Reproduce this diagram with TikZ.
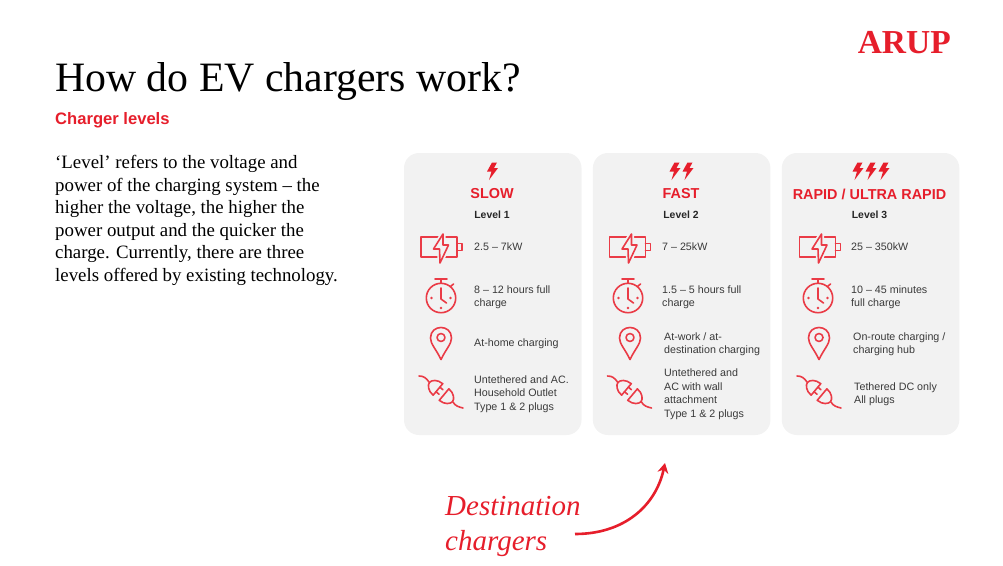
\documentclass[tikz,border=0pt]{standalone}
\usepackage{fontspec}
\setmainfont{Liberation Serif}
\setsansfont{Liberation Sans}
\usetikzlibrary{shapes.geometric, arrows.meta, positioning}
\definecolor{arupred}{HTML}{E61E2B}
\definecolor{icored}{HTML}{EA3B46}
\definecolor{cardgray}{HTML}{F2F2F2}
\definecolor{textgray}{HTML}{3A3A3A}
\tikzstyle{card} = [rectangle, fill=cardgray, rounded corners=15pt, minimum width=177.5pt, minimum height=282pt, inner sep=0pt]
\tikzstyle{heading} = [font=\sffamily\bfseries\fontsize{14.4}{17}\selectfont, text=arupred, inner sep=0pt]
\tikzstyle{level} = [font=\sffamily\bfseries\fontsize{10.4}{12}\selectfont, text=black!85, inner sep=0pt]
\tikzstyle{info} = [anchor=west, align=left, font=\sffamily\fontsize{10.7}{13.5}\selectfont, text=textgray, inner sep=0pt]
\tikzstyle{icon} = [draw=icored, line width=1.6pt, line join=round, line cap=round]
\tikzstyle{arrow} = [draw=arupred, -{Stealth[length=10pt,width=11pt]}, line width=2.6pt]
\newcommand{\smallbolt}[1]{\fill[arupred, shift={(#1)}] (-0.5,-8.5) -- (4.5,-8.5) -- (1.5,-3) -- (5.5,-3) -- (-3.5,9) -- (-1,0.5) -- (-5.5,0.5) -- cycle;}
\newcommand{\batteryicon}[1]{\begin{scope}[shift={(#1)}]
  \path[icon] (-20.5,-10) rectangle (15.5,10);
  \path[icon] (15.5,-3.5) -- (20.5,-3.5) -- (20.5,3.5) -- (15.5,3.5);
  \path[icon, draw=cardgray, line width=5pt] (1.5,-13) -- (-8,2) -- (-2,2) -- (-1.5,16) -- (7,-2) -- (1.5,-2) -- cycle;
  \path[icon] (1.5,-13) -- (-8,2) -- (-2,2) -- (-1.5,16) -- (7,-2) -- (1.5,-2) -- cycle;
\end{scope}}
\newcommand{\clockicon}[1]{\begin{scope}[shift={(#1)}]
  \path[icon] (0,0) circle (14.7);
  \path[icon] (-6,-19) -- (6,-19) (0,-19) -- (0,-14.7) (9.5,-11.5) -- (12.5,-14);
  \path[icon] (0,-10) -- (0,1) -- (5.5,5);
  \fill[icored] (-9.5,0) circle (1.3) (9.5,0) circle (1.3) (0,10) circle (1.3);
\end{scope}}
\newcommand{\pinicon}[1]{\begin{scope}[shift={(#1)}]
  \path[icon] (0,21.5) .. controls (-5,11) and (-10.5,6) .. (-10.5,0) .. controls (-10.5,-14) and (10.5,-14) .. (10.5,0) .. controls (10.5,6) and (5,11) .. (0,21.5) -- cycle;
  \path[icon] (0,-0.5) circle (4);
\end{scope}}
\newcommand{\plugicon}[1]{\begin{scope}[shift={(#1)}]
  \path[icon] (-22,-16) .. controls (-17,-16) and (-15,-14) .. (-12,-10);
  \path[icon] (12,10) .. controls (14,14) and (18,15) .. (22,16);
  \begin{scope}[rotate=-40]
    \path[icon] (-4,-7.5) .. controls (-11,-7.5) and (-15,-3) .. (-15,0) .. controls (-15,3) and (-11,7.5) .. (-4,7.5) -- cycle;
    \path[icon] (4,-7.5) .. controls (11,-7.5) and (15,-3) .. (15,0) .. controls (15,3) and (11,7.5) .. (4,7.5) -- cycle;
    \path[icon] (-4,-3) -- (0,-3) (-4,3) -- (0,3);
  \end{scope}
\end{scope}}
\begin{document}
\begin{tikzpicture}[x=1pt, y=-1pt, node distance=11pt]
  \useasboundingbox (0,0) rectangle (1003,565);

  % Header
  \node (logo) [anchor=base east, inner sep=0pt, text=arupred, font=\bfseries\fontsize{33.5}{40}\selectfont] at (951,53) {ARUP};
  \node (title) [anchor=base west, inner sep=0pt, text=black, font=\fontsize{41.8}{48}\selectfont] at (55,91) {How do EV chargers work?};
  \node (subtitle) [anchor=base west, inner sep=0pt, text=arupred, font=\sffamily\bfseries\fontsize{16.6}{18}\selectfont] at (55,124) {Charger levels};
  \node (intro) [anchor=north west, align=left, inner sep=0pt, text=black, font=\fontsize{18.85}{22.6}\selectfont] at (55,155) {‘Level’ refers to the voltage and\\power of the charging system -- the\\higher the voltage, the higher the\\power output and the quicker the\\charge. Currently, there are three\\levels offered by existing technology.};

  % Cards
  \node (slowcard) [card] at (492.75,294) {};
  \node (fastcard) [card, right=of slowcard] {};
  \node (rapidcard) [card, right=of fastcard] {};

  % Level 1
  \smallbolt{492.5,171}
  \node (slowhead) [heading] at (492,194) {SLOW};
  \node (slowlevel) [level] at (492,215) {Level 1};
  \batteryicon{441.5,247}
  \node (slowpower) [info] at (474,247) {2.5 -- 7kW};
  \clockicon{441,298}
  \node (slowtime) [info] at (474,297) {8 -- 12 hours full\\charge};
  \pinicon{441,338}
  \node (slowplace) [info] at (474,344) {At-home charging};
  \plugicon{441,392}
  \node (slowplug) [info] at (474,394) {Untethered and AC.\\Household Outlet\\Type 1 \& 2 plugs};

  % Level 2
  \smallbolt{675,171}
  \smallbolt{688,171}
  \node (fasthead) [heading] at (681,194) {FAST};
  \node (fastlevel) [level] at (681,215) {Level 2};
  \batteryicon{630,247}
  \node (fastpower) [info] at (662,247) {7 -- 25kW};
  \clockicon{628,298}
  \node (fasttime) [info] at (662,297) {1.5 -- 5 hours full\\charge};
  \pinicon{630,338}
  \node (fastplace) [info] at (664,344) {At-work / at-\\destination charging};
  \plugicon{629.5,392}
  \node (fastplug) [info] at (664,394) {Untethered and\\AC with wall\\attachment\\Type 1 \& 2 plugs};

  % Level 3
  \smallbolt{858,171}
  \smallbolt{871,171}
  \smallbolt{884,171}
  \node (rapidhead) [heading] at (869.5,194) {RAPID / ULTRA RAPID};
  \node (rapidlevel) [level] at (869.5,215) {Level 3};
  \batteryicon{820,247}
  \node (rapidpower) [info] at (851,247) {25 -- 350kW};
  \clockicon{818,298}
  \node (rapidtime) [info] at (851,297) {10 -- 45 minutes\\full charge};
  \pinicon{819,338}
  \node (rapidplace) [info] at (853,344) {On-route charging /\\charging hub};
  \plugicon{819,392}
  \node (rapidplug) [info] at (854,394) {Tethered DC only\\All plugs};

  % Callout below the middle card
  \node (destination) [anchor=north west, align=left, inner sep=0pt, text=arupred, font=\itshape\fontsize{29}{35.5}\selectfont] at (445,496) {Destination\\chargers};
  \coordinate (arrowstart) at (575,534);
  \coordinate (arrowtip) at (665,463);
  \draw [arrow] (arrowstart) .. controls (625,534) and (656,505) .. (arrowtip);

\end{tikzpicture}
\end{document}
